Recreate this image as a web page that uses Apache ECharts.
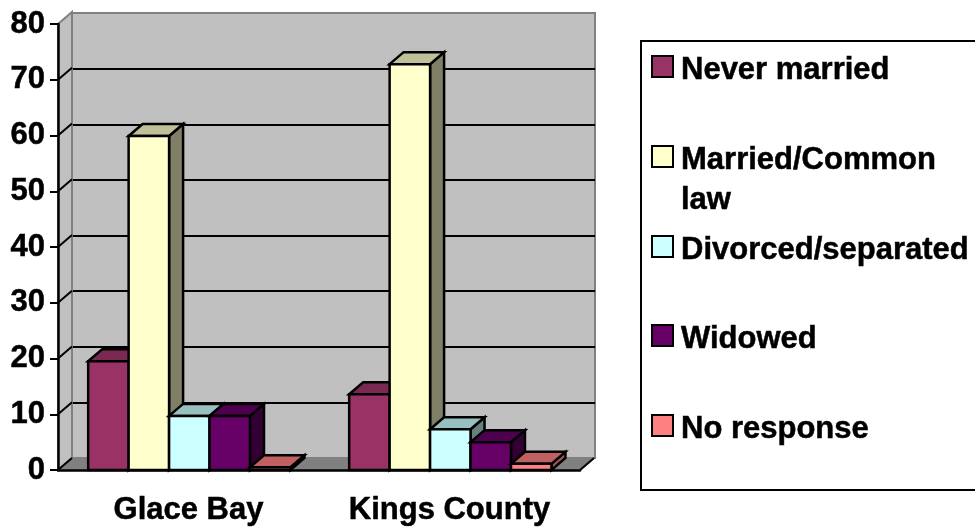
<!DOCTYPE html>
<html>
<head>
<meta charset="utf-8">
<style>html,body{margin:0;padding:0;background:#fff}#c{width:975px;height:527px}</style>
<script src="https://cdn.jsdelivr.net/npm/echarts@6/dist/echarts.min.js"></script>
</head>
<body>
<div id="c"></div>
<script>
const categories = ['Glace Bay', 'Kings County'];
const yTicks = [0, 10, 20, 30, 40, 50, 60, 70, 80];
const seriesNames = ['Never married', 'Married/Common law', 'Divorced/separated', 'Widowed', 'No response'];
const neverMarried = [19.5, 13.6];
const marriedCommon = [59.9, 72.8];
const divorcedSeparated = [9.7, 7.3];
const widowed = [9.7, 5.0];
const noResponse = [0.5, 1.1];
const seriesValues = [neverMarried, marriedCommon, divorcedSeparated, widowed, noResponse];
const frontColors = ['#993366', '#ffffcc', '#ccffff', '#660066', '#ff8080'];
const topColors = ['#7a2952', '#c0c09a', '#99c0c0', '#4d004d', '#c06060'];
const sideColors = ['#4d1a33', '#808066', '#668080', '#330033', '#a85555'];
const legendCentres = [67.5, 157.5, 247.5, 336.5, 426.5];

const DX = 14, DY = -12, FONT = 'Liberation Sans', BAR_SHARE = 0.155;
const ink = { stroke: '#000', lineWidth: 2.5, lineJoin: 'miter' };

function poly(points, fill, extra) {
  return { type: 'polygon', shape: { points }, style: Object.assign({ fill }, ink, extra || {}) };
}

function renderFrame(params, api) {
  const tick = api.value(0);
  const band = api.size([1, 0])[0];
  const lo = api.coord([0, 0]), hi = api.coord([1, 0]);
  const x0 = lo[0] - band / 2, x1 = hi[0] + band / 2;
  const y = api.coord([0, tick])[1];
  const children = [];
  if (tick === yTicks[0]) {
    const yTop = api.coord([0, yTicks[yTicks.length - 1]])[1];
    children.push(poly([[x0, yTop], [x0 + DX, yTop + DY], [x0 + DX, lo[1] + DY], [x0, lo[1]]], '#c0c0c0', { stroke: '#808080', lineWidth: 2 }));
    children.push(poly([[x0, lo[1]], [x0 + DX, lo[1] + DY], [x1 + DX, lo[1] + DY], [x1, lo[1]]], '#808080', { stroke: '#808080', lineWidth: 2 }));
    children.push({ type: 'line', shape: { x1: x0, y1: lo[1], x2: x0 + DX, y2: lo[1] + DY }, style: { stroke: '#000', lineWidth: 2 } });
    children.push({ type: 'line', shape: { x1: x1, y1: lo[1], x2: x1 + DX, y2: lo[1] + DY }, style: { stroke: '#000', lineWidth: 2 } });
  } else if (tick !== yTicks[yTicks.length - 1]) {
    children.push({ type: 'line', shape: { x1: x0, y1: y, x2: x0 + DX, y2: y + DY }, style: { stroke: '#000', lineWidth: 2 } });
  }
  return { type: 'group', children };
}

function makeRenderBar(s) {
  return function (params, api) {
    const cat = api.value(0);
    const base = api.coord([cat, 0]);
    const top = api.coord([cat, api.value(1)]);
    const w = api.size([1, 0])[0] * BAR_SHARE;
    const l = base[0] + (s - 2.48) * w, r = l + w;
    const yb = base[1], yt = top[1];
    return {
      type: 'group',
      children: [
        poly([[r, yt], [r + DX, yt + DY], [r + DX, yb + DY], [r, yb]], sideColors[s]),
        poly([[l, yt], [l + DX, yt + DY], [r + DX, yt + DY], [r, yt]], topColors[s]),
        poly([[l, yb], [l, yt], [r, yt], [r, yb]], frontColors[s])
      ]
    };
  };
}

const labelFont = { fontFamily: FONT, fontWeight: 'bold', fontSize: 31, color: '#000', textBorderColor: '#000', textBorderWidth: 0.5 };

const chart = echarts.init(document.getElementById('c'), null, { renderer: 'canvas', width: 975, height: 527 });
chart.setOption({
  animation: false,
  backgroundColor: '#fff',
  tooltip: { show: false },
  grid: [
    { left: 58, top: 24, width: 522, height: 446, show: false },
    { left: 72, top: 13, width: 523, height: 445, show: true, backgroundColor: '#c0c0c0', borderColor: '#808080', borderWidth: 2 }
  ],
  xAxis: [
    {
      type: 'category', gridIndex: 0, data: categories, z: 10,
      axisLine: { lineStyle: { color: '#000', width: 2.5 } },
      axisTick: { length: 8, lineStyle: { color: '#000', width: 2 } },
      axisLabel: Object.assign({ margin: 25, interval: 0, hideOverlap: false }, labelFont),
      splitLine: { show: false }
    },
    { type: 'category', gridIndex: 1, data: categories, show: false }
  ],
  yAxis: [
    {
      type: 'value', gridIndex: 0, min: 0, max: 80, interval: 10, z: 10,
      axisLine: { show: true, lineStyle: { color: '#000', width: 2.5 } },
      axisTick: { show: true, length: 8, lineStyle: { color: '#000', width: 2 } },
      axisLabel: Object.assign({ margin: 13, padding: [2, 0, 0, 0] }, labelFont),
      splitLine: { show: false }
    },
    {
      type: 'value', gridIndex: 1, min: 0, max: 80, interval: 10,
      axisLine: { show: false }, axisTick: { show: false }, axisLabel: { show: false },
      splitLine: { show: true, showMinLine: false, showMaxLine: false, lineStyle: { color: '#000', width: 2 } }
    }
  ],
  legend: seriesNames.map((name, i) => {
    const wrapped = name.includes(' law');
    return {
      show: true,
      data: [name],
      orient: 'vertical',
      left: 651,
      top: legendCentres[i] - (wrapped ? 60 : 20),
      padding: 0,
      icon: 'rect',
      itemWidth: 21,
      itemHeight: 21,
      itemStyle: { borderColor: '#000', borderWidth: 2 },
      selectedMode: false,
      formatter: n => (wrapped
        ? '{t| }\n{t|' + n.replace(' law', '}\n{t|law') + '}'
        : '{t|' + n + '}'),
      textStyle: {
        rich: { t: Object.assign({ padding: [7, 0, 0, 3], lineHeight: 40 }, labelFont) }
      }
    };
  }),
  graphic: [
    { type: 'rect', z: 0, shape: { x: 641, y: 41, width: 360, height: 449 }, style: { fill: '#fff', stroke: '#000', lineWidth: 2 } }
  ],
  series: [
    {
      type: 'custom', name: 'frame', xAxisIndex: 0, yAxisIndex: 0, z: 2, silent: true,
      encode: { x: 1, y: 0 },
      data: yTicks.map(t => [t, 0]),
      renderItem: renderFrame
    }
  ].concat(seriesNames.map((name, s) => ({
    type: 'custom', name, xAxisIndex: 0, yAxisIndex: 0, z: 3 + s, silent: true,
    itemStyle: { color: frontColors[s] },
    encode: { x: 0, y: 1 },
    data: seriesValues[s].map((v, c) => [c, v]),
    renderItem: makeRenderBar(s)
  })))
});
</script>
</body>
</html>
